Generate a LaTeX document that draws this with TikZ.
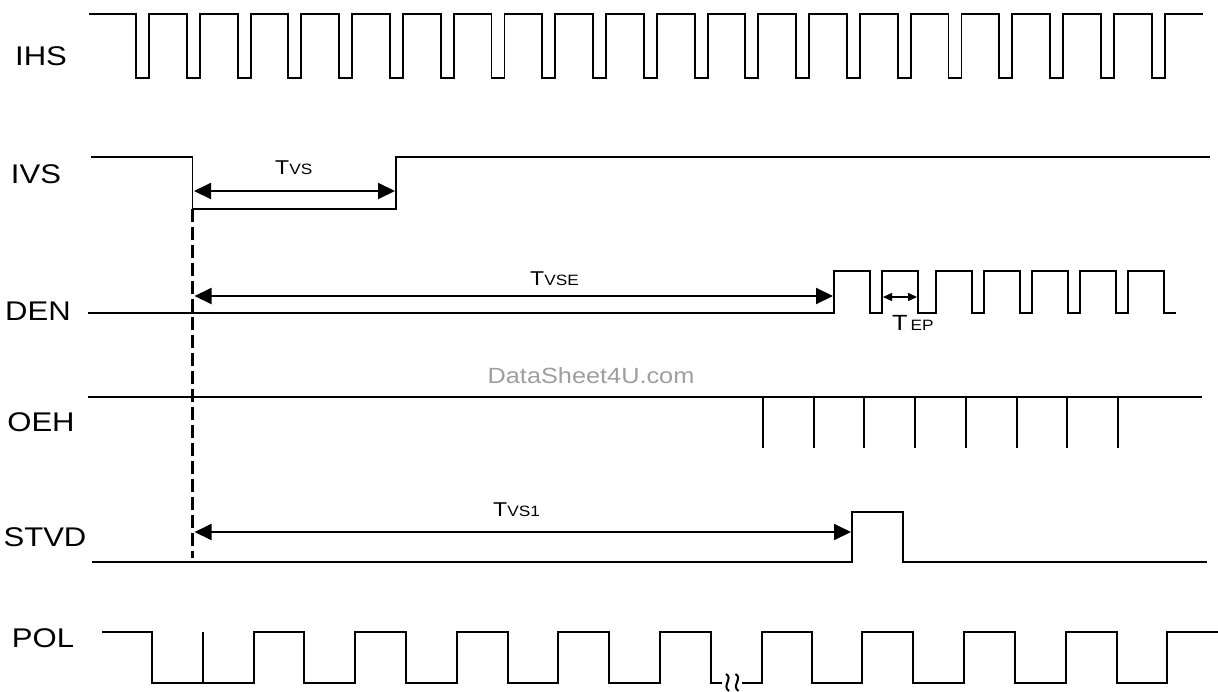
\documentclass[tikz,border=0pt]{standalone}
\usepackage{fontspec}
\setmainfont{Liberation Sans}[FakeStretch=1.15]
\usetikzlibrary{arrows.meta}
\begin{document}
\begin{tikzpicture}[x=1pt,y=-1pt,
  wave/.style={line width=1.9pt, line join=miter},
  sig/.style={font=\fontsize{27}{27}\selectfont, inner sep=0pt},
  bigarrow/.style={line width=1.9pt, {Triangle[length=17pt,width=16pt]}-{Triangle[length=17pt,width=16pt]}},
  smallarrow/.style={line width=1.5pt, {Triangle[length=9pt,width=8pt]}-{Triangle[length=9pt,width=8pt]}},
  tlabel/.style={inner sep=0pt, anchor=base west}]
\useasboundingbox (0,0) rectangle (1218,691);

% signal names
\node[sig] (lihs)  at (41,56.5) {IHS};
\node[sig] (livs)  at (36,174) {IVS};
\node[sig] (lden)  at (38,311) {DEN};
\node[sig] (loeh)  at (41,422) {OEH};
\node[sig] (lstvd) at (45,537) {STVD};
\node[sig] (lpol)  at (43,638) {POL};

% watermark
\node[inner sep=0pt, text=black!38, font=\fontsize{22}{22}\selectfont] (wm) at (591,376) {DataSheet4U.com};

% IHS
\draw[wave] (89,14) foreach \k in {0,...,20} { -- ({136+50.78*\k},14) -- ++(0,64) -- ++(13,0) -- ++(0,-64) } -- (1203,14);

% IVS
\draw[wave] (91,157) -- (192.5,157) -- (192.5,209) -- (396,209) -- (396,157) -- (1210,157);

% DEN
\draw[wave] (88,313) -- (834,313) -- (834,271) -- (870,271) -- (870,313) -- (882,313)
  -- (882,271) -- (918,271) -- (918,313) -- (936,313)
  -- (936,271) -- (972,271) -- (972,313) -- (984,313)
  -- (984,271) -- (1020,271) -- (1020,313) -- (1032,313)
  -- (1032,271) -- (1068,271) -- (1068,313) -- (1080,313)
  -- (1080,271) -- (1116,271) -- (1116,313) -- (1128,313)
  -- (1128,271) -- (1164,271) -- (1164,313) -- (1176,313);

% OEH
\draw[wave] (88,397) -- (1202,397);
\foreach \x in {763,814,864,915,966,1017,1067,1118}
  \draw[wave] (\x,397) -- (\x,448);

% STVD
\draw[wave] (92,562) -- (852,562) -- (852,512) -- (903,512) -- (903,562) -- (1207,562);

% POL
\draw[wave] (102,632) -- (151.7,632) -- (151.7,683) -- (253.7,683) -- (253.7,632)
  -- (304.3,632) -- (304.3,683) -- (355.3,683) -- (355.3,632)
  -- (406,632) -- (406,683) -- (457,683) -- (457,632)
  -- (507.7,632) -- (507.7,683) -- (558.3,683) -- (558.3,632)
  -- (609.3,632) -- (609.3,683) -- (660,683) -- (660,632)
  -- (710.7,632) -- (710.7,683) -- (722,683);
\draw[wave] (202.7,683) -- (202.7,632);
\foreach \x in {727.5,737}
  \draw[line width=2pt] (\x-1.5,674) .. controls (\x+6,678) and (\x-6,686) .. (\x+1.5,691);
\draw[wave] (742,683) -- (761.7,683) -- (761.7,632)
  -- (812.3,632) -- (812.3,683) -- (862.3,683) -- (862.3,632)
  -- (913.3,632) -- (913.3,683) -- (964,683) -- (964,632)
  -- (1015,632) -- (1015,683) -- (1065.7,683) -- (1065.7,632)
  -- (1116.7,632) -- (1116.7,683) -- (1167.3,683) -- (1167.3,632) -- (1218,632);

% dashed reference line
\coordinate (dtop) at (192.5,209);
\coordinate (dbot) at (192.5,558);
\draw[line width=2.5pt, dash pattern=on 13pt off 5pt] (dtop) -- (dbot);

% timing arrows
\coordinate (tvsA) at (194,191);
\coordinate (tvsB) at (395,191);
\draw[bigarrow] (tvsA) -- (tvsB);
\coordinate (tvseA) at (194.5,296);
\coordinate (tvseB) at (833,296);
\draw[bigarrow] (tvseA) -- (tvseB);
\coordinate (tvs1A) at (194.5,532);
\coordinate (tvs1B) at (851,532);
\draw[bigarrow] (tvs1A) -- (tvs1B);
\coordinate (tepA) at (883,297);
\coordinate (tepB) at (917,297);
\draw[smallarrow] (tepA) -- (tepB);

% timing labels
\node[tlabel] (ltvs) at (275,174) {\fontsize{20}{20}\selectfont T\fontsize{15}{15}\selectfont VS};
\node[tlabel] (ltvse) at (530,285) {\fontsize{20}{20}\selectfont T\fontsize{15}{15}\selectfont VSE};
\node[tlabel] (ltvs1) at (493,516) {\fontsize{20}{20}\selectfont T\fontsize{15}{15}\selectfont VS1};
\node[tlabel] (ltep) at (892,330) {\fontsize{22}{22}\selectfont T\hspace{3pt}\fontsize{15}{15}\selectfont EP};
\end{tikzpicture}
\end{document}
